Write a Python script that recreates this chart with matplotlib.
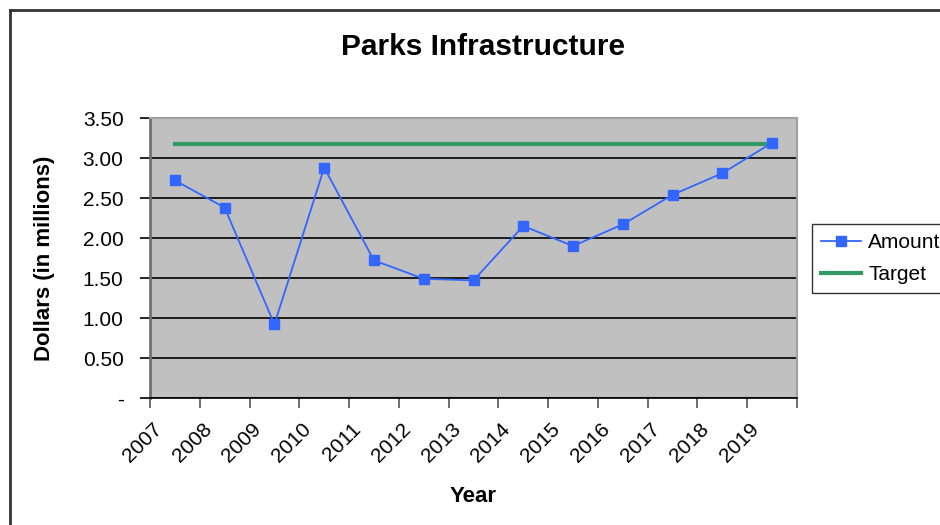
import matplotlib
matplotlib.use("Agg")
import matplotlib.pyplot as plt
import matplotlib.transforms as mtransforms
from matplotlib.lines import Line2D
from matplotlib.ticker import FixedLocator, FuncFormatter

plt.rcParams['font.family'] = ['Liberation Sans', 'DejaVu Sans']

years = ["2007", "2008", "2009", "2010", "2011", "2012", "2013",
         "2014", "2015", "2016", "2017", "2018", "2019"]
amount = [2.72, 2.38, 0.92, 2.88, 1.72, 1.49, 1.47,
          2.15, 1.90, 2.17, 2.54, 2.81, 3.19]
target = [3.175] * len(years)

W, H = 940, 525
fig = plt.figure(figsize=(W / 100, H / 100), dpi=100)
ax = fig.add_axes([150 / W, 1 - 398 / H, (797 - 150) / W, (398 - 118) / H])
ax.set_facecolor("#C0C0C0")

x = [i + 0.5 for i in range(len(years))]
ax.plot(x, amount, color="#3366FF", lw=1.3, marker="s", ms=7,
        mec="#3366FF", label="Amount", zorder=4)
ax.plot(x, target, color="#339966", lw=3, label="Target", zorder=3)

ax.set_xlim(0, len(years))
ax.set_ylim(0, 3.5)

# y axis
ax.yaxis.set_major_locator(FixedLocator([0, 0.5, 1, 1.5, 2, 2.5, 3, 3.5]))
ax.yaxis.set_major_formatter(FuncFormatter(lambda v, p: "-" if v == 0 else "%.2f" % v))
ax.grid(axis="y", color="black", lw=1.2)
ax.set_axisbelow(True)

# x axis: ticks at category boundaries, rotated labels near the centres
ax.set_xticks(range(len(years) + 1))
ax.set_xticklabels([])
ax.tick_params(axis="x", length=7, width=1.2, color="#555555")
lab_tr = ax.get_xaxis_transform() + mtransforms.ScaledTranslation(
    -0.16, -0.28, fig.dpi_scale_trans)
for xi, yr in zip(x, years):
    ax.text(xi, 0, yr, transform=lab_tr, rotation=45, ha="right", va="center",
            rotation_mode="anchor", fontsize=15)

ax.tick_params(axis="y", length=7, width=1.2, color="black", labelsize=15, pad=12)

for side in ["top", "right"]:
    ax.spines[side].set_color("#A0A0A0")
    ax.spines[side].set_linewidth(1.5)
ax.spines["left"].set_color("#707070")
ax.spines["left"].set_linewidth(2)
ax.spines["bottom"].set_color("black")
ax.spines["bottom"].set_linewidth(1.2)

fig.text(483 / W, 1 - 47 / H, "Parks Infrastructure", ha="center", va="center",
         fontsize=21.5, fontweight="bold")
fig.text(473 / W, 1 - 496 / H, "Year", ha="center", va="center",
         fontsize=16, fontweight="bold")
fig.text(45 / W, 1 - 258 / H, "Dollars (in millions)", ha="center", va="center",
         rotation=90, fontsize=16, fontweight="bold")

leg = fig.legend(loc="upper left", bbox_to_anchor=(812 / W, 1 - 224 / H),
                 fontsize=15, frameon=True, fancybox=False, handlelength=1.9,
                 handletextpad=0.34, borderpad=0.45, labelspacing=0.6,
                 borderaxespad=0)
leg.get_frame().set_edgecolor("black")
leg.get_frame().set_linewidth(1)

# outer chart frame (cut off at right and bottom)
fig.add_artist(Line2D([10 / W, 10 / W], [0, 1 - 10 / H], color="#333333", lw=2))
fig.add_artist(Line2D([10 / W, 1], [1 - 10 / H, 1 - 10 / H], color="#333333", lw=2))

fig.savefig("out.png", dpi=100)
